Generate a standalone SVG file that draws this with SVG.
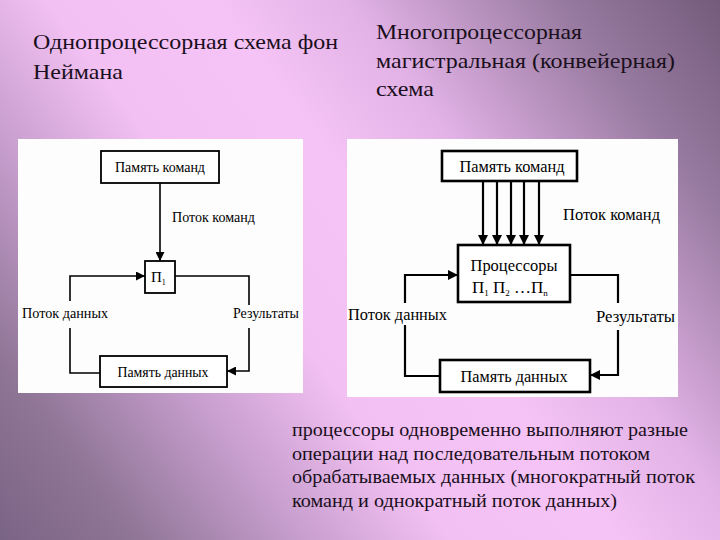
<svg xmlns="http://www.w3.org/2000/svg" width="720" height="540" viewBox="0 0 720 540">
<defs>
<linearGradient id="bg" gradientUnits="userSpaceOnUse" x1="720" y1="0" x2="0" y2="540">
<stop offset="0" stop-color="#735b7b"/>
<stop offset="0.15" stop-color="#9a7ca2"/>
<stop offset="0.33" stop-color="#e2b2e6"/>
<stop offset="0.45" stop-color="#f5c3f5"/>
<stop offset="0.6" stop-color="#f2c0f2"/>
<stop offset="0.74" stop-color="#c49ccb"/>
<stop offset="0.88" stop-color="#8f7596"/>
<stop offset="1" stop-color="#7a6485"/>
</linearGradient>
<marker id="ah" viewBox="0 0 10 10" refX="10" refY="5" markerWidth="9" markerHeight="9" markerUnits="userSpaceOnUse" orient="auto">
<path d="M0,0 L10,5 L0,10 z" fill="#000"/>
</marker>
<marker id="ah2" viewBox="0 0 10 10" refX="10" refY="5" markerWidth="10" markerHeight="10" markerUnits="userSpaceOnUse" orient="auto">
<path d="M0,0 L10,5 L0,10 z" fill="#000"/>
</marker>
</defs>
<style>
text{font-family:'Liberation Serif','Times New Roman',serif}
.title{font-size:21px;fill:#1a0f1c}
.body{font-size:18px;fill:#1a0f1c}
.lbl{font-size:15px;fill:#000}
.lbl2{font-size:17px;fill:#000}
.panel{fill:#fdfdfd}
.box1{fill:#fff;stroke:#000;stroke-width:1.8}
.box2{fill:#fff;stroke:#000;stroke-width:2.6}
.c1{fill:none;stroke:#000;stroke-width:1.6}
.c2{fill:none;stroke:#000;stroke-width:2.2}
</style>
<rect width="720" height="540" fill="url(#bg)"/>

<g id="titles">
<text class="title" x="33" y="49" textLength="305" lengthAdjust="spacingAndGlyphs">Однопроцессорная схема фон</text>
<text class="title" x="33" y="79" textLength="90" lengthAdjust="spacingAndGlyphs">Неймана</text>
<text class="title" x="376" y="39" textLength="206" lengthAdjust="spacingAndGlyphs">Многопроцессорная</text>
<text class="title" x="376" y="68" textLength="299" lengthAdjust="spacingAndGlyphs">магистральная (конвейерная)</text>
<text class="title" x="376" y="96" textLength="58" lengthAdjust="spacingAndGlyphs">схема</text>
</g>

<g id="panels">
<rect class="panel" x="18" y="139" width="285" height="254"/>
<rect class="panel" x="347" y="139" width="331" height="258"/>
</g>

<g id="connectors">
<line class="c1" x1="160" y1="183" x2="160" y2="261" marker-end="url(#ah)"/>
<polyline class="c1" points="100,373 70,373 70,328"/>
<polyline class="c1" points="70,301 70,276 145,276" marker-end="url(#ah)"/>
<polyline class="c1" points="175,276 249,276 249,305"/>
<polyline class="c1" points="249,328 249,371 227,371" marker-end="url(#ah)"/>
<line class="c2" x1="483" y1="181" x2="483" y2="245" marker-end="url(#ah2)"/>
<line class="c2" x1="497" y1="181" x2="497" y2="245" marker-end="url(#ah2)"/>
<line class="c2" x1="511" y1="181" x2="511" y2="245" marker-end="url(#ah2)"/>
<line class="c2" x1="524" y1="181" x2="524" y2="245" marker-end="url(#ah2)"/>
<line class="c2" x1="539" y1="181" x2="539" y2="245" marker-end="url(#ah2)"/>
<polyline class="c2" points="440,376 405,376 405,325"/>
<polyline class="c2" points="405,303 405,275 458,275" marker-end="url(#ah2)"/>
<polyline class="c2" points="570,275 618,275 618,303"/>
<polyline class="c2" points="618,330 618,375 590,375" marker-end="url(#ah2)"/>
</g>

<g id="left-labels">
<text class="lbl" x="172" y="222" textLength="83" lengthAdjust="spacingAndGlyphs">Поток команд</text>
<text class="lbl" x="22" y="318" textLength="86" lengthAdjust="spacingAndGlyphs">Поток данных</text>
<text class="lbl" x="233" y="318" textLength="66" lengthAdjust="spacingAndGlyphs">Результаты</text>
</g>

<g id="left-mem-cmd">
<rect class="box1" x="101" y="151" width="118" height="32"/>
<text class="lbl" x="160" y="172" text-anchor="middle" textLength="90" lengthAdjust="spacingAndGlyphs">Память команд</text>
</g>
<g id="left-proc">
<rect class="box1" x="145" y="261" width="30" height="32"/>
<text class="lbl" x="151" y="282">П<tspan font-size="8" dy="3">1</tspan></text>
</g>
<g id="left-mem-data">
<rect class="box1" x="100" y="356" width="127" height="31"/>
<text class="lbl" x="163" y="377" text-anchor="middle" textLength="91" lengthAdjust="spacingAndGlyphs">Память данных</text>
</g>

<g id="right-labels">
<text class="lbl2" x="563" y="220" textLength="97" lengthAdjust="spacingAndGlyphs">Поток команд</text>
<text class="lbl2" x="348" y="320" textLength="99" lengthAdjust="spacingAndGlyphs">Поток данных</text>
<text class="lbl2" x="596" y="322" textLength="79" lengthAdjust="spacingAndGlyphs">Результаты</text>
</g>

<g id="right-mem-cmd">
<rect class="box2" x="442" y="151" width="135" height="30"/>
<text class="lbl2" x="512" y="172" text-anchor="middle" textLength="105" lengthAdjust="spacingAndGlyphs">Память команд</text>
</g>
<g id="right-proc">
<rect class="box2" x="458" y="245" width="112" height="57"/>
<text class="lbl2" x="514" y="271" text-anchor="middle" textLength="87" lengthAdjust="spacingAndGlyphs">Процессоры</text>
<text class="lbl2" x="472" y="293">П<tspan font-size="9" dy="3">1</tspan><tspan dy="-3"> П</tspan><tspan font-size="9" dy="3">2</tspan><tspan dy="-3"> …П</tspan><tspan font-size="9" dy="3">n</tspan></text>
</g>
<g id="right-mem-data">
<rect class="box2" x="440" y="360" width="150" height="32"/>
<text class="lbl2" x="514" y="382" text-anchor="middle" textLength="107" lengthAdjust="spacingAndGlyphs">Память данных</text>
</g>

<g id="description">
<text class="body" x="292" y="436" textLength="396" lengthAdjust="spacingAndGlyphs">процессоры одновременно выполняют разные</text>
<text class="body" x="292" y="460" textLength="358" lengthAdjust="spacingAndGlyphs">операции над последовательным потоком</text>
<text class="body" x="292" y="483" textLength="403" lengthAdjust="spacingAndGlyphs">обрабатываемых данных (многократный поток</text>
<text class="body" x="292" y="507" textLength="325" lengthAdjust="spacingAndGlyphs">команд и однократный поток данных)</text>
</g>
</svg>
